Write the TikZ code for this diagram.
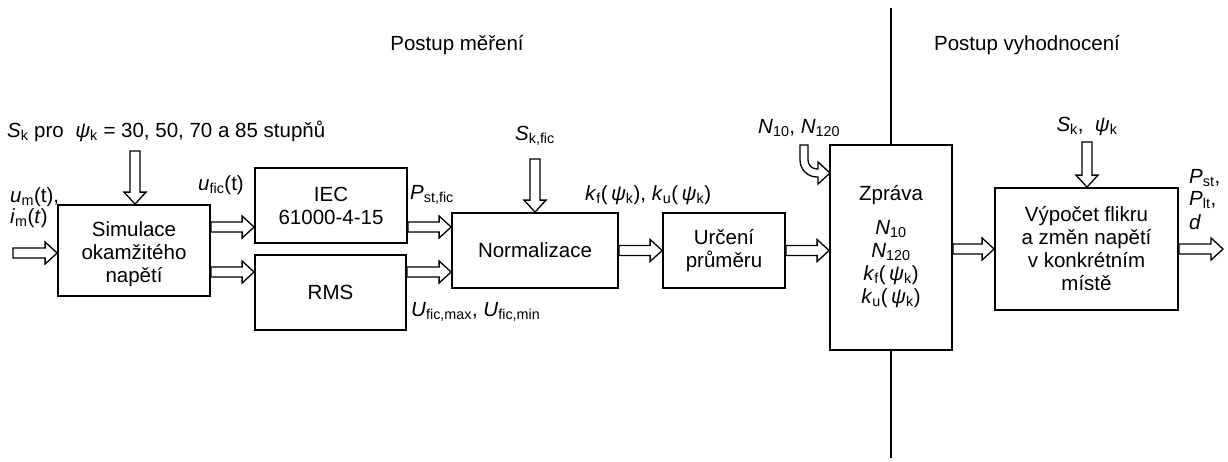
\documentclass[tikz,border=0pt]{standalone}
\usepackage{fontspec}
\setmainfont{Liberation Sans}
\usetikzlibrary{calc}
\newcommand\fs{\fontsize{20.5}{23}\selectfont}
\newcommand\sk[1]{\textsubscript{#1}}
\tikzset{
  box/.style={draw, line width=1.8pt, fill=white, inner sep=0pt, font=\fs, align=center},
  fat/.style={draw, line width=1.3pt, fill=white, line join=miter},
  lbl/.style={inner sep=0pt, font=\fs},
  sepline/.style={draw, line width=2pt},
}
\newcommand\harr[2]{\path[fat] let \p1=#1, \p2=#2 in
  (\x1,\y1+5pt) -- (\x2-12pt,\y1+5pt) -- (\x2-12pt,\y1+11pt) -- (\x2,\y1)
  -- (\x2-12pt,\y1-11pt) -- (\x2-12pt,\y1-5pt) -- (\x1,\y1-5pt) -- cycle;}
\newcommand\varr[2]{\path[fat] let \p1=#1, \p2=#2 in
  (\x1-5pt,\y1) -- (\x1-5pt,\y2+12pt) -- (\x1-11pt,\y2+12pt) -- (\x1,\y2)
  -- (\x1+11pt,\y2+12pt) -- (\x1+5pt,\y2+12pt) -- (\x1+5pt,\y1) -- cycle;}
\begin{document}
\begin{tikzpicture}[x=1pt,y=-1pt]
\useasboundingbox (0,0) rectangle (1228,461);
% separator
\coordinate (septop) at (891,8);
\coordinate (sepbot) at (891,458);
\path[sepline] (septop) -- (sepbot);
% headers
\node[lbl] (h1) at (457,45) {Postup měření};
\node[lbl] (h2) at (1027,45) {Postup vyhodnocení};
% boxes
\node[box, minimum width=152pt, minimum height=91pt] (sim) at (134,250.5) {};
\node[lbl, align=center] (simtext) at (134,254) {Simulace\\okamžitého\\napětí};
\node[box, minimum width=152pt, minimum height=75pt] (iec) at (331,205.5) {IEC\\61000-4-15};
\node[box, minimum width=151pt, minimum height=75pt] (rms) at (330.5,292.5) {RMS};
\node[box, minimum width=166pt, minimum height=75pt] (norm) at (535,250.5) {Normalizace};
\node[box, minimum width=122pt, minimum height=75pt] (urc) at (724,250.5) {Určení\\průměru};
\node[box, minimum width=122pt, minimum height=205pt] (zpr) at (891,247.5) {};
\node[lbl, anchor=base] (zprtitle) at (891,200) {Zpráva};
\node[lbl, anchor=base] (zn10) at (891,234) {\textit{N}\sk{10}};
\node[lbl, anchor=base] (zn120) at (891,257) {\textit{N}\sk{120}};
\node[lbl, anchor=base] (zkf) at (891,280) {\textit{k}\sk{f}(\,\textit{ψ}\sk{k})};
\node[lbl, anchor=base] (zku) at (891,303) {\textit{k}\sk{u}(\,\textit{ψ}\sk{k})};
\node[box, minimum width=183pt, minimum height=122pt] (vyp) at (1086.5,249) {Výpočet flikru\\a změn napětí\\v konkrétním\\místě};
% helper coordinates
\coordinate (ya) at (0,227);
\coordinate (yb) at (0,272);
\coordinate (in) at (13,253);
\coordinate (out) at (1223,249);
\coordinate (t1) at (135,151);
\coordinate (t2) at (535,159);
\coordinate (t3) at (1087,142);
% arrows
\harr{(in)}{(sim.west |- in)}
\harr{(sim.east |- ya)}{(iec.west |- ya)}
\harr{(sim.east |- yb)}{(rms.west |- yb)}
\harr{(iec.east |- ya)}{(norm.west |- ya)}
\harr{(rms.east |- yb)}{(norm.west |- yb)}
\harr{(norm.east)}{(urc.west)}
\harr{(urc.east)}{(zpr.west |- urc.east)}
\harr{(zpr.east |- vyp.west)}{(vyp.west)}
\harr{(vyp.east)}{(out)}
\varr{(t1)}{(t1 |- sim.north)}
\varr{(t2)}{(norm.north)}
\varr{(t3)}{(t3 |- vyp.north)}
% curved arrow into Zpráva
\path[fat] (800,145) -- (800,160) .. controls (800,169.4) and (807.6,177) .. (817,177)
  -- (818,177) -- (818,184) -- (830,173) -- (818,162) -- (818,169) -- (817,169)
  .. controls (812,169) and (808,165) .. (808,160) -- (808,145) -- cycle;
% labels
\node[lbl, anchor=west] (lsk) at (7,131) {\textit{S}\sk{k} pro \ \textit{ψ}\sk{k} = 30, 50, 70 a 85 stupňů};
\node[lbl, anchor=west] (lum) at (10,197) {\textit{u}\sk{m}(t),};
\node[lbl, anchor=west] (lim) at (10,218) {\textit{i}\sk{m}(\textit{t})};
\node[lbl, anchor=west] (lufic) at (198,185) {\textit{u}\sk{fic}(t)};
\node[lbl, anchor=west] (lpst) at (410,195) {\textit{P}\sk{st,fic}};
\node[lbl, anchor=west] (lumax) at (411,312) {\textit{U}\sk{fic,max}, \textit{U}\sk{fic,min}};
\node[lbl] (lskfic) at (535,136) {\textit{S}\sk{k,fic}};
\node[lbl, anchor=west] (lkf) at (585,195) {\textit{k}\sk{f}(\,\textit{ψ}\sk{k}), \textit{k}\sk{u}(\,\textit{ψ}\sk{k})};
\node[lbl, anchor=west] (lnn) at (758,128) {\textit{N}\sk{10}, \textit{N}\sk{120}};
\node[lbl] (lskpsi) at (1087,126) {\textit{S}\sk{k}, \ \textit{ψ}\sk{k}};
\node[lbl, anchor=west] (lpst2) at (1189,178) {\textit{P}\sk{st},};
\node[lbl, anchor=west] (lplt) at (1189,200) {\textit{P}\sk{lt},};
\node[lbl, anchor=west] (ld) at (1189,222) {\textit{d}};
\end{tikzpicture}
\end{document}
